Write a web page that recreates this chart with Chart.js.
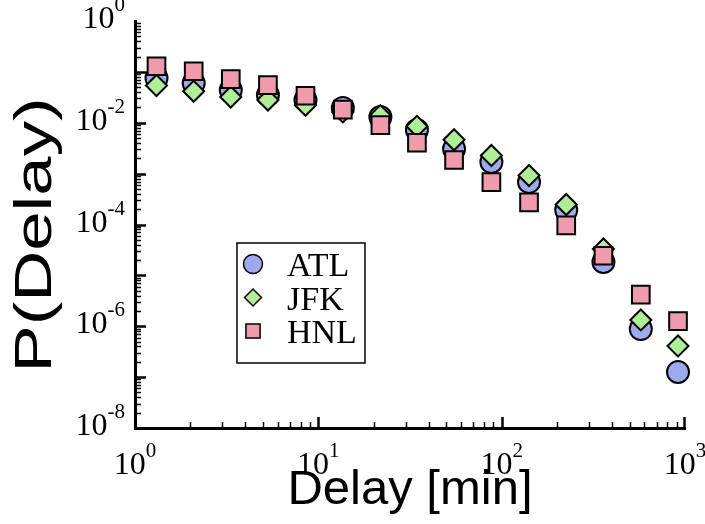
<!DOCTYPE html>
<html>
<head>
<title>P(Delay) vs Delay</title>
<script src="https://cdn.jsdelivr.net/npm/chart.js"></script>
<style>
  body { margin: 0; background: #fff; }
  #wrap { width: 705px; height: 524px; }
</style>
</head>
<body>
<div id="wrap"><canvas id="delayChart"></canvas></div>
<script>
// delay bins (minutes) and probability per airport
const delays = [1.31, 2.09, 3.33, 5.31, 8.51, 13.6, 21.8, 34.5, 55.0, 87.9, 141, 225, 359, 574, 916];
const atl = [0.0759, 0.0604, 0.0441, 0.0352, 0.0280, 0.0195, 0.0130, 0.00719, 0.00305, 0.00169, 6.85e-4, 1.93e-4, 1.83e-5, 8.8e-7, 1.26e-7];
const jfk = [0.054, 0.0415, 0.0321, 0.028, 0.0220, 0.0163, 0.0138, 0.00851, 0.00464, 0.00227, 9.2e-4, 2.47e-4, 3.3e-5, 1.33e-6, 4.1e-7];
const hnl = [0.129, 0.103, 0.0718, 0.0547, 0.0339, 0.0181, 0.00895, 0.00404, 0.00185, 6.8e-4, 2.73e-4, 9.6e-5, 2.43e-5, 4.2e-6, 1.26e-6];

const xTickExps = [0, 1, 2, 3];
const yTickExps = [0, -2, -4, -6, -8];
const yTitle = 'P(Delay)';

function pts(ys) {
    return delays.map((d, i) => ({ x: d, y: ys[i] }));
}

const serif = '"Liberation Serif", "Times New Roman", serif';
const sans = '"Liberation Sans", Arial, sans-serif';

// draws 10^n with a raised exponent
function drawPow(ctx, exp, x, y, align) {
    const base = '10', sup = String(exp);
    ctx.font = '32px ' + serif;
    const bw = ctx.measureText(base).width;
    ctx.font = '21px ' + serif;
    const sw = ctx.measureText(sup).width;
    const left = align === 'right' ? x - bw - sw : x - (bw + sw) / 2;
    ctx.textAlign = 'left';
    ctx.textBaseline = 'alphabetic';
    ctx.font = '32px ' + serif;
    ctx.fillText(base, left, y);
    ctx.font = '21px ' + serif;
    ctx.fillText(sup, left + bw, y - 17);
}

function marker(ctx, style, x, y, r) {
    ctx.beginPath();
    if (style === 'circle') {
        ctx.arc(x, y, r, 0, Math.PI * 2);
    } else if (style === 'rectRot') {
        ctx.moveTo(x - r, y); ctx.lineTo(x, y - r); ctx.lineTo(x + r, y); ctx.lineTo(x, y + r);
        ctx.closePath();
    } else {
        const s = r * Math.SQRT1_2;
        ctx.rect(x - s, y - s, 2 * s, 2 * s);
    }
    ctx.fill();
    ctx.stroke();
}

const axisDecor = {
    id: 'axisDecor',
    afterDraw(chart) {
        const { ctx, chartArea: a, scales: { x, y } } = chart;
        ctx.save();
        ctx.strokeStyle = '#000';
        ctx.fillStyle = '#000';
        // inward ticks, log spaced
        for (let e = -8; e < 0; e++) {
            for (let m = 1; m < 10; m++) {
                const py = Math.round(y.getPixelForValue(m * Math.pow(10, e))) + 0.5;
                const len = m === 1 ? 11 : 6;
                ctx.lineWidth = m === 1 ? 2.5 : 1.5;
                ctx.beginPath(); ctx.moveTo(a.left, py); ctx.lineTo(a.left + len, py); ctx.stroke();
            }
        }
        for (let e = 0; e < 3; e++) {
            for (let m = 1; m < 10; m++) {
                const px = Math.round(x.getPixelForValue(m * Math.pow(10, e))) + 0.5;
                const len = m === 1 ? 11 : 6;
                ctx.lineWidth = m === 1 ? 2.5 : 1.5;
                ctx.beginPath(); ctx.moveTo(px, a.bottom); ctx.lineTo(px, a.bottom - len); ctx.stroke();
            }
        }
        ctx.lineWidth = 2.5;
        const pr = Math.round(x.getPixelForValue(1000)) - 0.5;
        ctx.beginPath(); ctx.moveTo(pr, a.bottom); ctx.lineTo(pr, a.bottom - 11); ctx.stroke();

        yTickExps.forEach(e => drawPow(ctx, e, a.left - 10, y.getPixelForValue(Math.pow(10, e)) + 7, 'right'));
        xTickExps.forEach(e => drawPow(ctx, e, x.getPixelForValue(Math.pow(10, e)), a.bottom + 46, 'center'));

        // y title, stretched along its length like the original figure
        ctx.save();
        ctx.translate(37, 235);
        ctx.rotate(-Math.PI / 2);
        ctx.scale(1.36, 1);
        ctx.font = '52px ' + sans;
        ctx.textAlign = 'center';
        ctx.textBaseline = 'middle';
        ctx.fillText(yTitle, 0, 0);
        ctx.restore();

        // legend box
        const bx = 237, by = 243, bw = 128, bh = 120;
        ctx.lineWidth = 1.5;
        ctx.strokeRect(bx, by, bw, bh);
        const sizes = [9.5, 8.5, 10];
        chart.data.datasets.forEach((ds, i) => {
            const cy = by + 21 + i * 33.5;
            ctx.fillStyle = ds.backgroundColor;
            ctx.strokeStyle = '#000';
            ctx.lineWidth = 1.5;
            marker(ctx, ds.pointStyle, bx + 16, cy, sizes[i]);
            ctx.fillStyle = '#000';
            ctx.font = '34px ' + serif;
            ctx.textAlign = 'left';
            ctx.textBaseline = 'alphabetic';
            ctx.fillText(ds.label, bx + 50, cy + 12);
        });
        ctx.restore();
    }
};

new Chart(document.getElementById('delayChart'), {
    type: 'scatter',
    data: {
        datasets: [
            { label: 'ATL', data: pts(atl), pointStyle: 'circle', pointRadius: 11, backgroundColor: '#9eaaee', borderColor: '#000', borderWidth: 2, order: 3, clip: false },
            { label: 'JFK', data: pts(jfk), pointStyle: 'rectRot', pointRadius: 10.5, backgroundColor: '#aeee96', borderColor: '#000', borderWidth: 2, order: 2, clip: false },
            { label: 'HNL', data: pts(hnl), pointStyle: 'rect', pointRadius: 12.5, backgroundColor: '#ef9bad', borderColor: '#000', borderWidth: 2, order: 1, clip: false }
        ]
    },
    options: {
        responsive: true,
        maintainAspectRatio: false,
        animation: false,
        layout: { padding: { top: 21, right: 20, left: 0, bottom: 0 } },
        plugins: { legend: { display: false }, tooltip: { enabled: false } },
        scales: {
            x: {
                type: 'logarithmic',
                min: 1, max: 1000,
                grid: { display: false, drawTicks: false },
                border: { display: true, color: '#000', width: 3 },
                ticks: { display: false },
                title: { display: true, text: 'Delay [min]', color: '#000', font: { family: sans, size: 49 }, padding: { top: 0, bottom: 4 } },
                afterFit(s) { s.height = 96; }
            },
            y: {
                type: 'logarithmic',
                min: 1e-8, max: 1,
                grid: { display: false, drawTicks: false },
                border: { display: true, color: '#000', width: 3 },
                ticks: { display: false },
                title: { display: false },
                afterFit(s) { s.width = 135; }
            }
        }
    },
    plugins: [axisDecor]
});
</script>
</body>
</html>
